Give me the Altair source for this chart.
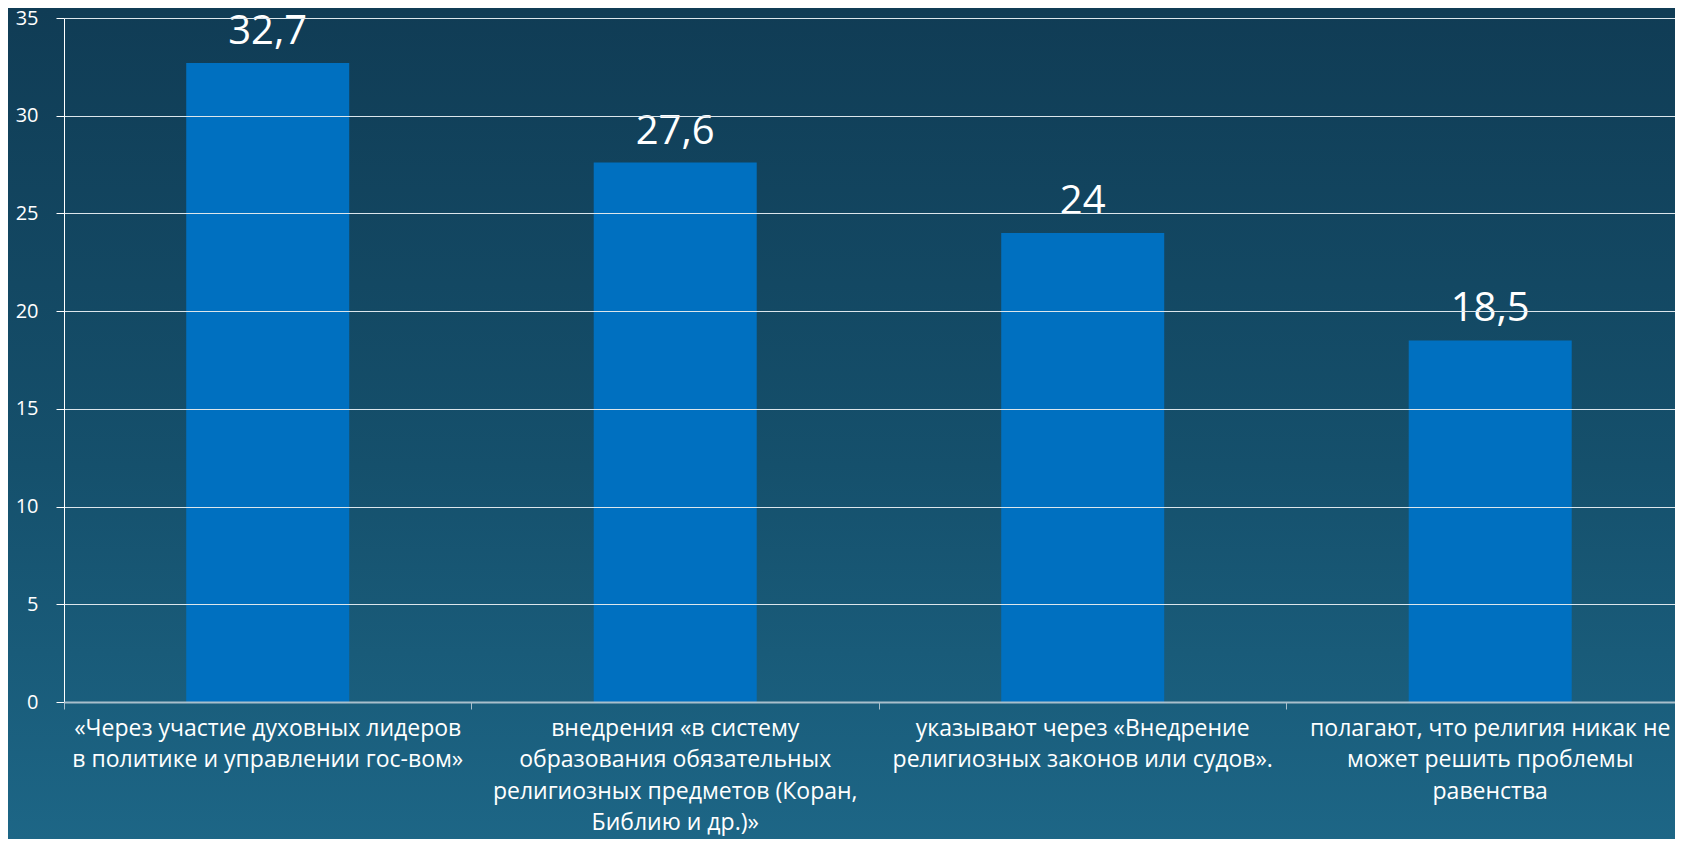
import altair as alt
import pandas as pd

categories = [
    "«Через участие духовных лидеров\nв политике и управлении гос-вом»",
    "внедрения «в систему\nобразования обязательных\nрелигиозных предметов (Коран,\nБиблию и др.)»",
    "указывают через «Внедрение\nрелигиозных законов или судов».",
    "полагают, что религия никак не\nможет  решить проблемы\nравенства",
]
values = [32.7, 27.6, 24, 18.5]
labels = [f"{v:g}".replace(".", ",") for v in values]

df = pd.DataFrame({"cat": categories, "val": values, "lab": labels})

W, H = 1611, 684
PAD = {"left": 56, "top": 10, "right": 0, "bottom": 137}
P_IN, P_OUT, ALIGN = 0.6, 0.2767, 0.542
STEP = W / (len(categories) - P_IN + 2 * P_OUT)
BAND = STEP * (1 - P_IN)

bg = alt.Chart(pd.DataFrame({"a": [0]})).mark_rect(
    fill=alt.Gradient(
        gradient="linear",
        x1=0, y1=0, x2=0, y2=1,
        stops=[
            alt.GradientStop(color="#103c55", offset=0),
            alt.GradientStop(color="#15506c", offset=0.55),
            alt.GradientStop(color="#1d6686", offset=1),
        ],
    )
).encode(
    x=alt.value(-PAD["left"]),
    x2=alt.value(W + 10),
    y=alt.value(-PAD["top"]),
    y2=alt.value(H + PAD["bottom"]),
)

xscale = alt.Scale(paddingInner=P_IN, paddingOuter=P_OUT, align=ALIGN)

xlab = alt.X(
    "cat:N",
    sort=categories,
    scale=xscale,
    axis=alt.Axis(
        title=None,
        orient="bottom",
        labelAngle=0,
        labelExpr="split(datum.value, '\\n')",
        labelLineHeight=31.5,
        labelFontSize=23,
        labelColor="white",
        labelFont="Open Sans",
        labelPadding=15,
        labelLimit=600,
        labelOverlap=False,
        labelFlush=False,
        labelBaseline="top",
        domainColor="#a9bfcc",
        domainWidth=2,
        ticks=False,
        grid=False,
        zindex=2,
    ),
)
xtick = alt.X(
    "cat:N",
    sort=categories,
    scale=xscale,
    axis=alt.Axis(
        title=None,
        orient="bottom",
        labels=False,
        domain=False,
        ticks=True,
        tickColor="#a9bfcc",
        tickWidth=1,
        tickSize=7,
        tickOffset=-(BAND / 2 + P_IN * STEP / 2),
        grid=False,
        zindex=2,
    ),
)
yenc = alt.Y(
    "val:Q",
    scale=alt.Scale(domain=[0, 35], nice=False),
    axis=alt.Axis(
        title=None,
        values=[0, 5, 10, 15, 20, 25, 30, 35],
        labelFontSize=20,
        labelColor="white",
        labelFont="Open Sans",
        labelPadding=18,
        tickSize=8,
        tickColor="white",
        domainColor="white",
        domainWidth=1,
        grid=True,
        gridColor="#dce6ec",
        gridWidth=1,
        zindex=1,
    ),
)

bars = alt.Chart(df).mark_bar(color="#0070c0").encode(x=xlab, y=yenc)
text = alt.Chart(df).mark_text(
    baseline="alphabetic", dy=-19, fontSize=40, color="white", font="Open Sans"
).encode(x=xtick, y="val:Q", text="lab:N")

chart = alt.layer(bg, bars, text).resolve_axis(x="independent").properties(
    width=W,
    height=H,
    padding=PAD,
    autosize=alt.AutoSizeParams(type="none"),
    background="#134761",
).configure_view(stroke=None)

chart.save("out.html", embed_options={"renderer": "svg", "actions": False})
